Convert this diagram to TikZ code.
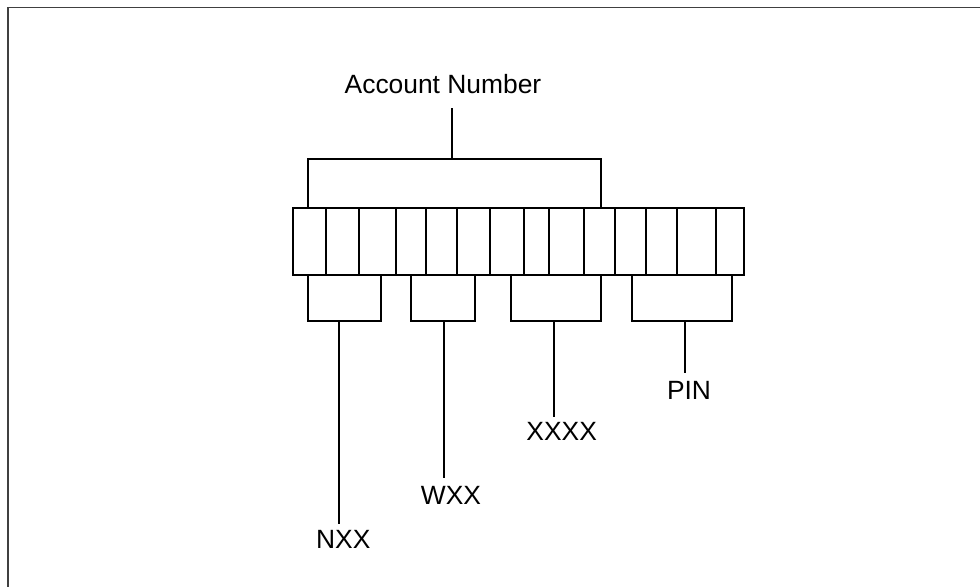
\documentclass[tikz,border=0pt]{standalone}
\usepackage{fontspec}
\setmainfont{Liberation Sans}
\begin{document}
\begin{tikzpicture}[x=0.5pt,y=-0.5pt,line width=1pt,
        lbl/.style={inner sep=0pt,font=\fontsize{13.2}{15}\selectfont}]
        \useasboundingbox (0,0) rectangle (980,587);
        \begin{scope}
        \clip (0,0) rectangle (980,587);
        \draw[line width=0.8pt,black!75] (8,7.5) rectangle (1000,610);
        \end{scope}
        \pgfmathsetmacro\celltop{208.3}
        \pgfmathsetmacro\cellbot{275}
        \pgfmathsetmacro\brkbot{321}
        % row of digits
        \draw (292.7,\celltop) rectangle (744,\cellbot);
        \foreach \x in {326,359.3,395.7,426,457,490.3,523.7,549.3,584.3,615.3,646.3,677.3,715.7}
            \draw (\x,\celltop) -- (\x,\cellbot);
        % account number bracket
        \node[lbl] (acct) at (443,84) {Account Number};
        \coordinate (acctj) at (451.7,159.3);
        \draw (308.3,\celltop) |- (600.7,159.3) -- (600.7,\celltop);
        \draw (acctj) -- (acctj |- 0,108);
        % lower brackets
        \draw (308.3,\cellbot) |- (380.7,\brkbot) -- (380.7,\cellbot);
        \draw (410.7,\cellbot) |- (474.7,\brkbot) -- (474.7,\cellbot);
        \draw (511,\cellbot) |- (600.7,\brkbot) -- (600.7,\cellbot);
        \draw (631.7,\cellbot) |- (731.7,\brkbot) -- (731.7,\cellbot);
        \coordinate (nxxj) at (339.3,\brkbot);
        \coordinate (wxxj) at (444,\brkbot);
        \coordinate (xxxxj) at (554.3,\brkbot);
        \coordinate (pinj) at (685,\brkbot);
        \node[lbl] (nxx) at (343.3,539.5) {NXX};
        \node[lbl] (wxx) at (451,495.8) {WXX};
        \node[lbl] (xxxx) at (561.7,431.3) {XXXX};
        \node[lbl] (pin) at (689,390.3) {PIN};
        \draw (nxxj) -- (nxxj |- 0,524);
        \draw (wxxj) -- (wxxj |- 0,478.3);
        \draw (xxxxj) -- (xxxxj |- 0,416.7);
        \draw (pinj) -- (pinj |- 0,372.7);
    \end{tikzpicture}
\end{document}
